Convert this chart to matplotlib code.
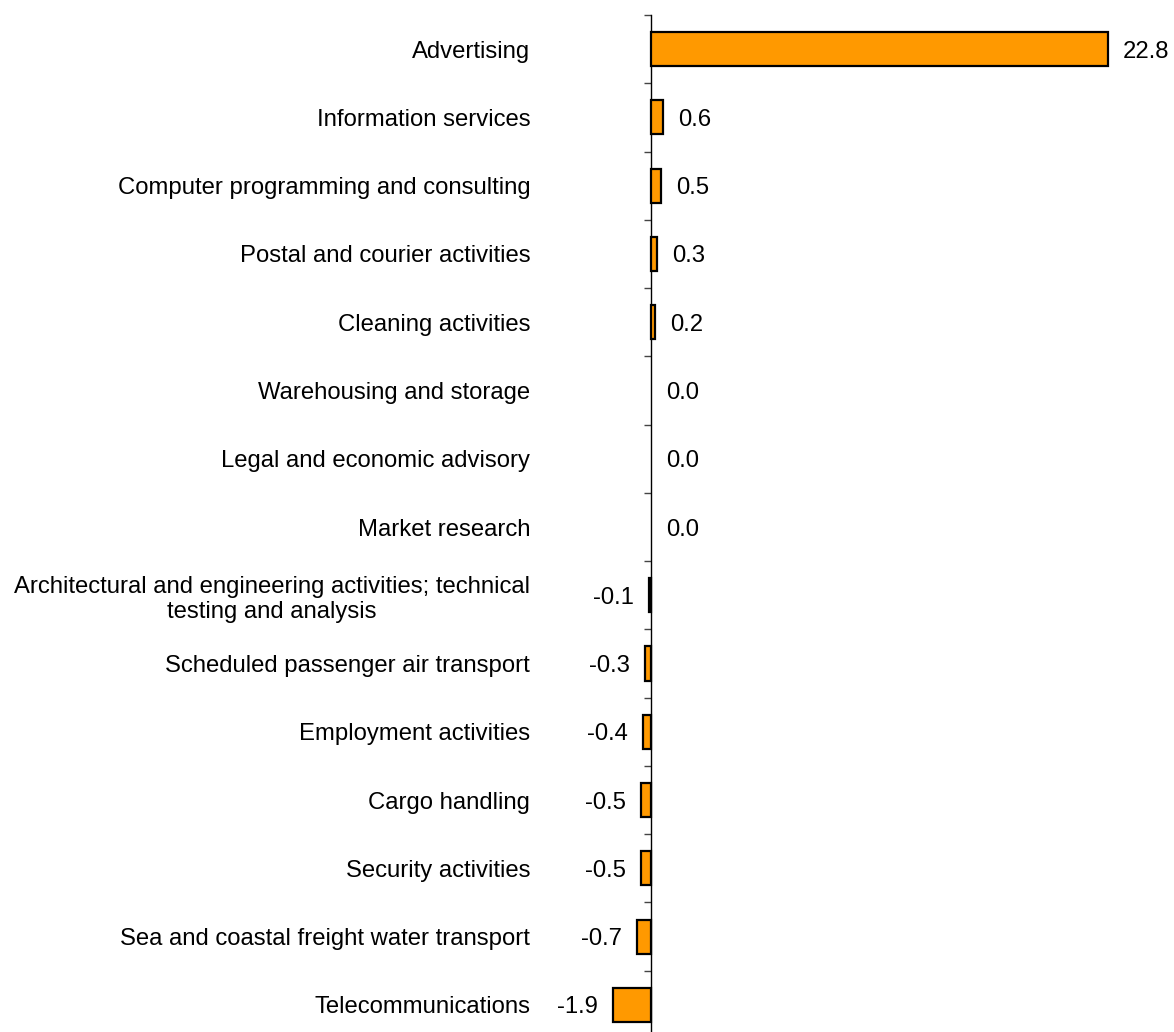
import matplotlib
matplotlib.use("Agg")
import matplotlib.pyplot as plt
import numpy as np

categories = [
    "Advertising",
    "Information services",
    "Computer programming and consulting",
    "Postal and courier activities",
    "Cleaning activities",
    "Warehousing and storage",
    "Legal and economic advisory",
    "Market research",
    "Architectural and engineering activities; technical\ntesting and analysis",
    "Scheduled passenger air transport",
    "Employment activities",
    "Cargo handling",
    "Security activities",
    "Sea and coastal freight water transport",
    "Telecommunications",
]
values = [22.8, 0.6, 0.5, 0.3, 0.2, 0.0, 0.0, 0.0, -0.1, -0.3, -0.4, -0.5, -0.5, -0.7, -1.9]

BAR_COLOR = "#FF9900"
FONT = "Liberation Sans"
FS = 17.2

plt.rcParams["font.family"] = [FONT, "DejaVu Sans"]

fig = plt.figure(figsize=(11.74, 10.32), dpi=100)
ax = fig.add_axes([611 / 1174, -7 / 1032, 521 / 1174, 1024 / 1032])

y = np.arange(len(categories))
# zero-valued bars are not drawn with an outline in the original
edge_w = [1.6 if v != 0 else 0 for v in values]
ax.barh(y, values, height=0.5, color=BAR_COLOR, edgecolor="black", linewidth=edge_w, zorder=3)

ax.set_xlim(-2, 24)
ax.set_ylim(len(categories) - 0.5, -0.5)

for s in ["top", "right", "bottom"]:
    ax.spines[s].set_visible(False)
ax.spines["left"].set_position(("data", 0))
ax.spines["left"].set_linewidth(1.0)
ax.set_xticks([])

ax.set_yticks(y)
ax.set_yticklabels(categories, fontsize=FS, multialignment="center")
ax.tick_params(axis="y", which="major", length=0, pad=87)
ax.set_yticks(np.arange(-0.5, len(categories), 1.0), minor=True)
ax.tick_params(axis="y", which="minor", length=5, width=1.0, color="#444444", direction="out")

for yi, v in zip(y, values):
    if v >= 0:
        ax.annotate(f"{v:.1f}", (v, yi), xytext=(10.5, 0), textcoords="offset points",
                    ha="left", va="center_baseline", fontsize=FS)
    else:
        ax.annotate(f"{v:.1f}", (v, yi), xytext=(-11, 0), textcoords="offset points",
                    ha="right", va="center_baseline", fontsize=FS)

fig.savefig("out.png", dpi=100)
